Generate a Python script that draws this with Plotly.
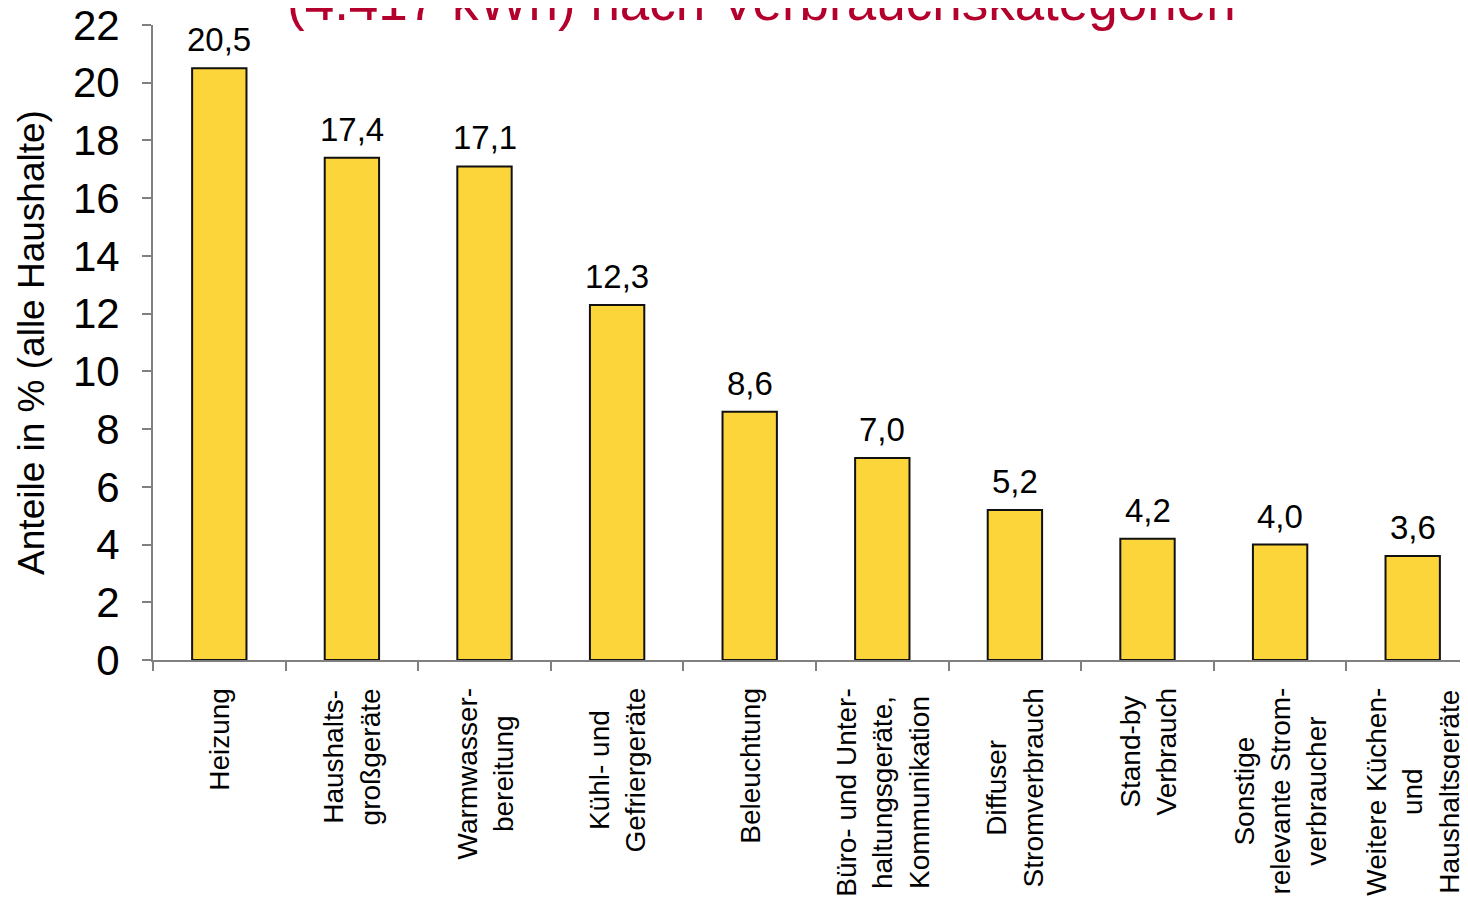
import plotly.graph_objects as go

categories = [
    'Heizung',
    'Haushalts-<br>großgeräte',
    'Warmwasser-<br>bereitung',
    'Kühl- und<br>Gefriergeräte',
    'Beleuchtung',
    'Büro- und Unter-<br>haltungsgeräte,<br>Kommunikation',
    'Diffuser<br>Stromverbrauch',
    'Stand-by<br>Verbrauch',
    'Sonstige<br>relevante Strom-<br>verbraucher',
    'Weitere Küchen-<br>und<br>Haushaltsgeräte',
]
shares = [20.5, 17.4, 17.1, 12.3, 8.6, 7.0, 5.2, 4.2, 4.0, 3.6]
y_ticks = list(range(0, 23, 2))

font_family = "Liberation Sans, Arial, sans-serif"

# plain category keys (labels are drawn as rotated annotations below)
keys = [c.replace('<br>', ' ') for c in categories]

fig = go.Figure()

fig.add_trace(go.Bar(
    x=keys,
    y=shares,
    marker_color='#FCD53A',
    marker_line_color='#111111',
    marker_line_width=2,
    hovertemplate="%{y:.1f} %<extra></extra>",
))

# value labels above the bars, German decimal comma
for key, v in zip(keys, shares):
    fig.add_annotation(
        x=key, y=v, xref='x', yref='y',
        text=f"{v:.1f}".replace('.', ','), showarrow=False,
        xanchor='center', yanchor='bottom', yshift=8,
        font=dict(size=33, color='black', family=font_family),
    )

# category labels, rotated and centred line by line
for key, label in zip(keys, categories):
    fig.add_annotation(
        x=key, y=0, xref='x', yref='paper',
        text=label, textangle=-90, showarrow=False,
        xanchor='center', yanchor='top', yshift=-26, align='center',
        font=dict(size=28, color='black', family=font_family),
    )

# second line of the title, cut off at the top of the page
fig.add_annotation(
    x=0.4625, y=1, xref='paper', yref='paper',
    text='(4.417 kWh) nach Verbrauchskategorien',
    showarrow=False, xanchor='center', yanchor='middle', yshift=24,
    font=dict(size=53, color='#B4002D', family=font_family),
)

# the page body adds an 8px offset, so margins are reduced by 8
fig.update_layout(
    width=1468,
    height=904,
    margin=dict(l=145, r=8, t=17, b=252),
    plot_bgcolor='white',
    paper_bgcolor='white',
    bargap=0.59,
    showlegend=False,
    font=dict(family=font_family, color='black'),
)
fig.update_xaxes(
    type='category',
    range=[-0.5, 9.417],
    showticklabels=False,
    tickson='boundaries',
    ticks='outside', ticklen=9, tickcolor='#808080', tickwidth=1.5,
    showline=True, linecolor='#808080', linewidth=2,
    showgrid=False, zeroline=False, automargin=False,
)
fig.update_yaxes(
    range=[0, 22],
    tickvals=y_ticks,
    ticks='outside', ticklen=9, tickcolor='#808080', tickwidth=1.5,
    ticklabelstandoff=14, ticklabeloverflow='allow',
    tickfont=dict(size=42, color='black', family=font_family),
    showline=True, linecolor='#808080', linewidth=2,
    showgrid=False, zeroline=False, automargin=False,
    title=dict(text='Anteile in % (alle Haushalte)',
               font=dict(size=37, color='black', family=font_family),
               standoff=17),
)

fig.write_html("out.html")
